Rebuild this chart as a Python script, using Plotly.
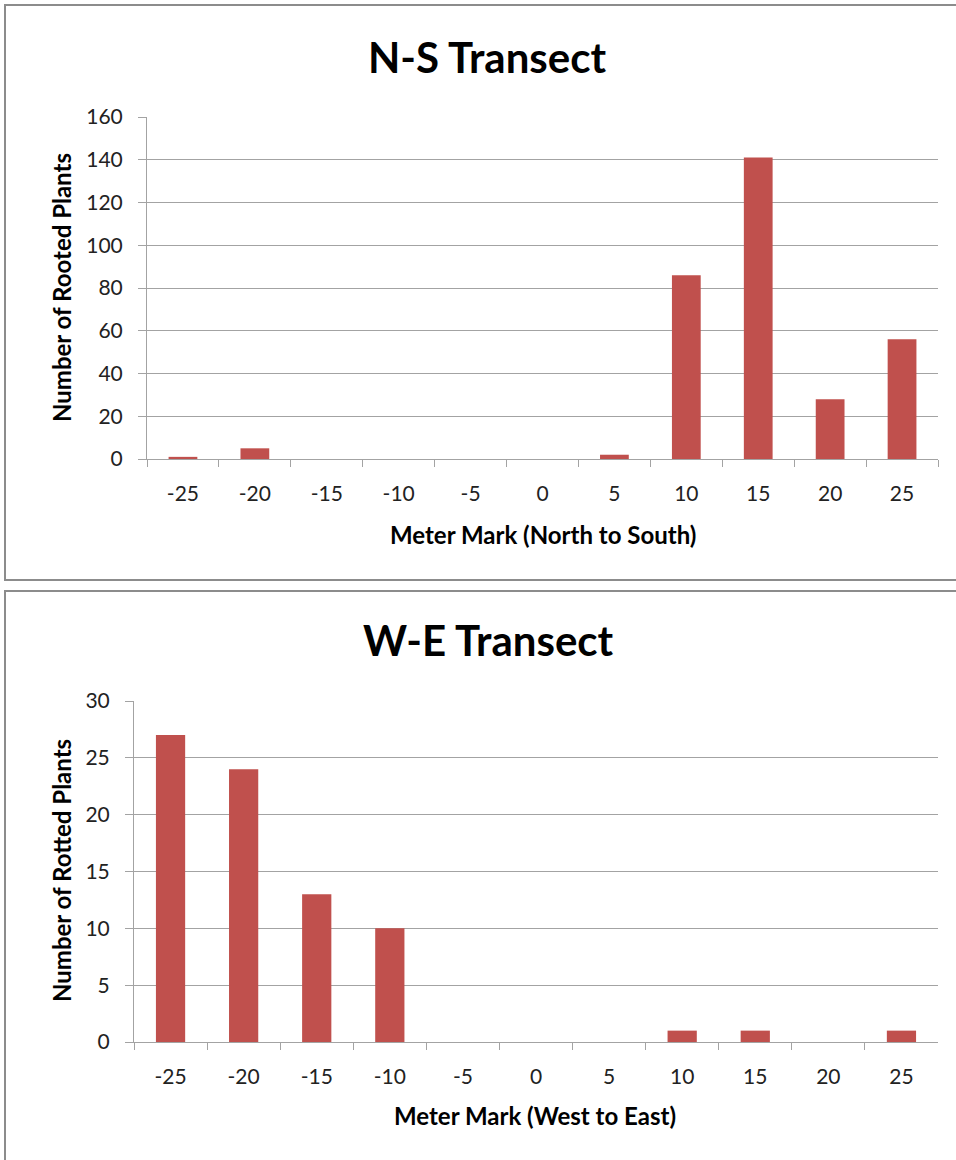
import plotly.graph_objects as go

# Meter marks along each transect
meter_marks = ["-25", "-20", "-15", "-10", "-5", "0", "5", "10", "15", "20", "25"]

# Plant counts per meter mark
ns_rooted = [1, 5, 0, 0, 0, 0, 2, 86, 141, 28, 56]
we_rotted = [27, 24, 13, 10, 0, 0, 0, 1, 1, 0, 1]

ns_ticks = [0, 20, 40, 60, 80, 100, 120, 140, 160]
we_ticks = [0, 5, 10, 15, 20, 25, 30]

W, H = 956, 1160
BAR = "#C0504D"
GRID = "#A3A3A3"
FONT = "Lato"

fig = go.Figure()
fig.add_trace(go.Bar(x=meter_marks, y=ns_rooted, marker=dict(color=BAR, line=dict(width=0)),
                     xaxis="x", yaxis="y", showlegend=False))
fig.add_trace(go.Bar(x=meter_marks, y=we_rotted, marker=dict(color=BAR, line=dict(width=0)),
                     xaxis="x2", yaxis="y2", showlegend=False))


def px_x(v):
    return v / W


def px_y(v):
    return 1 - v / H


xcommon = dict(type="category", showgrid=False, showline=True, linecolor=GRID, linewidth=1,
               ticks="outside", tickson="boundaries", ticklen=7, tickcolor=GRID,
               tickfont=dict(family=FONT, size=21, color="#222222"), ticklabelstandoff=16,
               automargin=False, fixedrange=True)
ycommon = dict(showgrid=True, gridcolor=GRID, gridwidth=1, showline=True, linecolor=GRID,
               linewidth=1, ticks="outside", ticklen=8, tickcolor=GRID, zeroline=False,
               tickfont=dict(family=FONT, size=21, color="#222222"), ticklabelstandoff=11,
               automargin=False, fixedrange=True)

fig.update_layout(
    width=W, height=H,
    margin=dict(l=0, r=0, t=0, b=0, pad=0),
    paper_bgcolor="white", plot_bgcolor="white",
    bargap=0.6,
    xaxis=dict(xcommon, domain=[px_x(147), px_x(938)], anchor="y"),
    yaxis=dict(ycommon, domain=[px_y(459), px_y(117)], anchor="x",
               range=[0, 160], tickvals=ns_ticks),
    xaxis2=dict(xcommon, domain=[px_x(134), px_x(938)], anchor="y2"),
    yaxis2=dict(ycommon, domain=[px_y(1042), px_y(701)], anchor="x2",
                range=[0, 30], tickvals=we_ticks),
)

# Chart frames
frame = dict(type="rect", xref="paper", yref="paper",
             line=dict(color="#8C8C8C", width=2), fillcolor="rgba(0,0,0,0)", layer="below")
fig.add_shape(frame, x0=px_x(5), x1=px_x(975), y0=px_y(580), y1=px_y(5))
fig.add_shape(frame, x0=px_x(5), x1=px_x(975), y0=px_y(1180), y1=px_y(591))

texts = [
    ("N-S Transect", 487, 57, 42, 0),
    ("Number of Rooted Plants", 61, 288, 24, -90),
    ("Meter Mark (North to South)", 543, 534, 24, 0),
    ("W-E Transect", 488, 640, 42, 0),
    ("Number of Rotted Plants", 61, 871, 24, -90),
    ("Meter Mark (West to East)", 535, 1115, 24, 0),
]
for t, x, y, s, ang in texts:
    fig.add_annotation(text=f"<b>{t}</b>", x=px_x(x), y=px_y(y), xref="paper", yref="paper",
                       showarrow=False, xanchor="center", yanchor="middle", textangle=ang,
                       font=dict(family=FONT, size=s, color="#000000"))

fig.write_html("out.html")
